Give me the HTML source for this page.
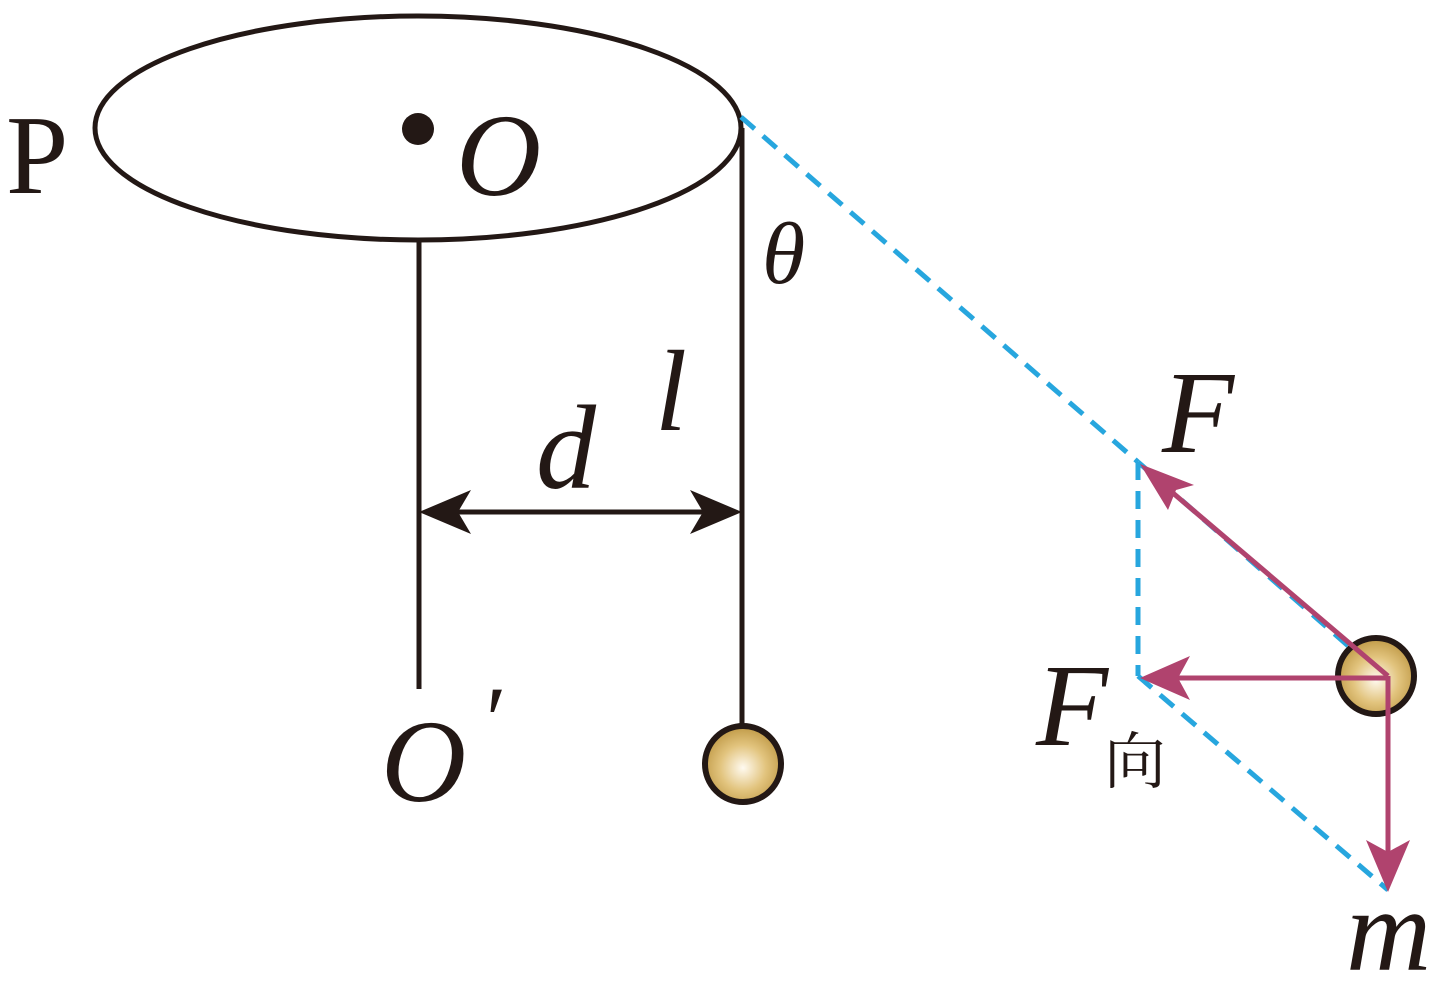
<!DOCTYPE html>
<html><head><meta charset="utf-8"><style>html,body{margin:0;padding:0;background:#fff}svg{display:block}</style></head><body>
<svg width="1440" height="982" viewBox="0 0 1440 982" xmlns="http://www.w3.org/2000/svg">
<defs>
<radialGradient id="g" cx="0.5" cy="0.55" r="0.6">
<stop offset="0" stop-color="#fffaf0"/><stop offset="0.5" stop-color="#e2c47e"/><stop offset="1" stop-color="#b8903a"/>
</radialGradient>
</defs>
<g stroke="#231815" stroke-width="5" fill="none">
<ellipse cx="418" cy="128" rx="323" ry="112"/>
<line x1="419" y1="241" x2="419" y2="689"/>
<line x1="742" y1="128" x2="742" y2="724"/>
<line x1="440" y1="512" x2="722" y2="512"/>
</g>
<circle cx="418" cy="129" r="16" fill="#231815"/>
<polygon points="419,512 471,490 458,512 471,534" fill="#231815"/>
<polygon points="742,512 690,490 703,512 690,534" fill="#231815"/>
<circle cx="743" cy="764" r="38" fill="url(#g)" stroke="#231815" stroke-width="6"/>
<g stroke="#27a6de" stroke-width="5" fill="none" stroke-dasharray="18,11">
<line x1="741" y1="117" x2="1138" y2="462"/>
<line x1="1138" y1="462" x2="1378" y2="672"/>
<line x1="1138" y1="462" x2="1138" y2="676"/>
<line x1="1138" y1="676" x2="1388" y2="890"/>
</g>
<circle cx="1376" cy="676" r="38" fill="url(#g)" stroke="#231815" stroke-width="6"/>
<g stroke="#b0436e" stroke-width="5" fill="none">
<line x1="1388" y1="676" x2="1160" y2="482"/>
<line x1="1388" y1="678" x2="1165" y2="678"/>
<line x1="1388" y1="676" x2="1388" y2="865"/>
</g>
<g fill="#b0436e">
<polygon points="1140,464 1194,485 1176,490 1168,510"/>
<polygon points="1140,678 1190,656 1178,678 1190,700"/>
<polygon points="1388,892 1366,840 1388,852 1410,840"/>
</g>
<g fill="#231815" font-family="'Liberation Serif',serif">
<text x="6" y="193" font-size="112">P</text>
<text x="456" y="195" font-size="118" font-style="italic">O</text>
<text x="762" y="283" font-size="88" font-style="italic">θ</text>
<text x="655" y="430" font-size="115" font-style="italic">l</text>
<text x="536" y="488" font-size="120" font-style="italic">d</text>
<text x="381" y="801" font-size="118" font-style="italic">O</text>
<text x="480" y="752" font-size="95" font-style="italic">′</text>
<text x="1162" y="452" font-size="118" font-style="italic">F</text>
<text x="1036" y="745" font-size="118" font-style="italic">F</text>
<text x="1104" y="783" font-size="62" font-family="'Liberation Serif','Noto Serif CJK SC',serif">向</text>
<text x="1346" y="970" font-size="118" font-style="italic">m</text>
</g>
</svg>
</body></html>
